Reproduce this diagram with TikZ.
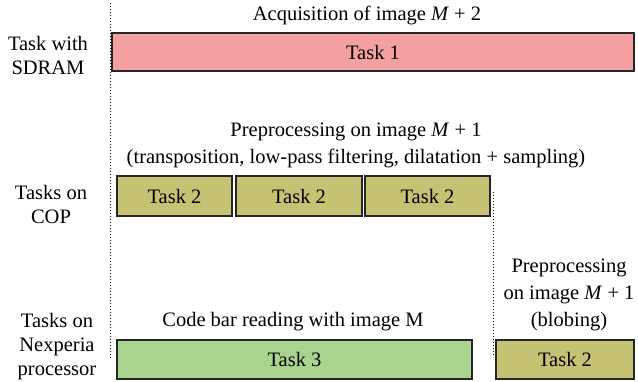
\documentclass[tikz,border=0pt]{standalone}
\usepackage{fontspec}
\setmainfont{Liberation Serif}
\usepackage{tikz}
\usetikzlibrary{positioning}
\definecolor{sdrampink}{HTML}{F4A0A0}
\definecolor{copolive}{HTML}{C5C274}
\definecolor{nexgreen}{HTML}{A8D490}

\begin{document}
\begin{tikzpicture}[x=1pt,y=-1pt]
\tikzstyle{taskbox}=[rectangle,draw=black!85,line width=1.1pt,inner sep=0pt,font=\fontsize{20.5}{27}\selectfont]
\tikzstyle{lbl}=[align=center,inner sep=0pt,font=\fontsize{20.5}{27}\selectfont]
\tikzstyle{rowlbl}=[align=center,inner sep=0pt,font=\fontsize{20.5}{24}\selectfont]
\useasboundingbox (0,0) rectangle (638,381);

%ROW LABELS
\node[rowlbl] (rowsdram) at (48,55) {Task with\\SDRAM};
\node[rowlbl] (rowcop) at (51,204) {Tasks on\\COP};
\node[rowlbl] (rownex) at (57,347) {Tasks on\\Nexperia\\processor};

%%%%%%%%%%%%%%%%%%%%%%%%%%%%%%%%%%%%%%%%%%%%%%%%%%%%%%%%%%%%%%%%%%%%%%%%
%SDRAM
\node[lbl] (acqtitle) at (367,15) {Acquisition of image \textit{M} + 2};
\node[taskbox,fill=sdrampink,minimum width=522pt,minimum height=38pt] (task1) at (373,52) {Task 1};

%%%%%%%%%%%%%%%%%%%%%%%%%%%%%%%%%%%%%%%%%%%%%%%%%%%%%%%%%%%%%%%%%%%%%%%%
%COP
\node[lbl] (preptitle) at (356,145) {Preprocessing on image \textit{M} + 1\\(transposition, low-pass filtering, dilatation + sampling)};
\node[taskbox,fill=copolive,minimum width=115pt,minimum height=40pt] (task2a) at (174.5,196) {Task 2};
\node[taskbox,fill=copolive,minimum width=126pt,minimum height=40pt] (task2b) at (299,196) {Task 2};
\node[taskbox,fill=copolive,minimum width=125pt,minimum height=40pt] (task2c) at (427.5,196) {Task 2};

%%%%%%%%%%%%%%%%%%%%%%%%%%%%%%%%%%%%%%%%%%%%%%%%%%%%%%%%%%%%%%%%%%%%%%%%
%NEXPERIA
\node[lbl] (codetitle) at (293,322) {Code bar reading with image M};
\node[taskbox,fill=nexgreen,minimum width=355pt,minimum height=39pt] (task3) at (294.5,359.5) {Task 3};
\node[lbl] (blobtitle) at (569,295) {Preprocessing\\on image \textit{M} + 1\\(blobing)};
\node[taskbox,fill=copolive,minimum width=138pt,minimum height=39pt] (task2d) at (565,359.5) {Task 2};

%%%%%%%%%%%%%%%%%%%%%%%%%%%%%%%%%%%%%%%%%%%%%%%%%%%%%%%%%%%%%%%%%%%%%%%%
%TIME LIMITS
\coordinate (start0) at (110,3);
\coordinate (start1) at (110,358);
\coordinate (end0) at (493,192);
\coordinate (end1) at (493,357);
\draw[dotted,line width=1pt] (start0) -- (start1);
\draw[dotted,line width=1pt] (end0) -- (end1);

\end{tikzpicture}
\end{document}
